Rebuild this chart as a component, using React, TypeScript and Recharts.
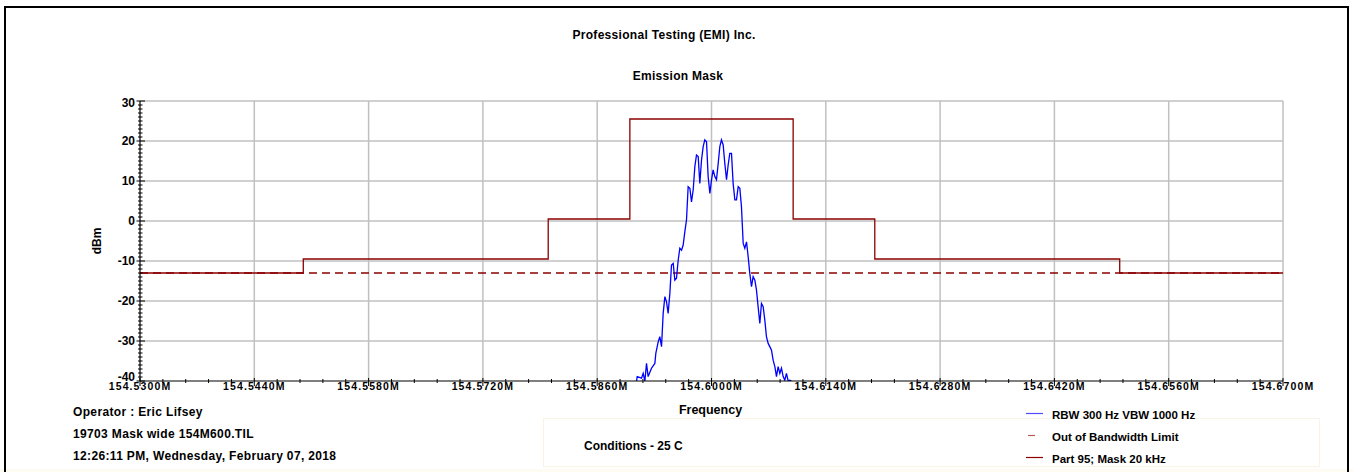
import { LineChart, Line, XAxis, YAxis, ReferenceLine } from "recharts";

const FONT = '"Liberation Sans", Arial, sans-serif';
const GRID = "#c0c0c0";
const BLUE = "#0000ff";
const MASK = "#8b0000";

// eje X (MHz) y eje Y (dBm)
const X_MAJOR = [154.53, 154.544, 154.558, 154.572, 154.586, 154.6, 154.614, 154.628, 154.642, 154.656, 154.67];
const Y_MAJOR = [-40, -30, -20, -10, 0, 10, 20, 30];

// máscara Part 95 (escalones)
const MASK_FREQ = [154.53, 154.55, 154.55, 154.58, 154.58, 154.59, 154.59, 154.61, 154.61, 154.62, 154.62, 154.65, 154.65, 154.67];
const MASK_DBM = [-13, -13, -9.5, -9.5, 0.5, 0.5, 25.5, 25.5, 0.5, 0.5, -9.5, -9.5, -13, -13];

// límite fuera de banda
const LIMIT_FREQ = [154.53, 154.67];
const LIMIT_DBM = [-13, -13];

// traza RBW 300 Hz
const TRACE_FREQ = [
  154.59082, 154.5909, 154.59143, 154.59163, 154.59184, 154.59204, 154.59224, 154.59265, 154.59306, 154.59318,
  154.59347, 154.59367, 154.59388, 154.59408, 154.59429, 154.59449, 154.59469, 154.5949, 154.5951, 154.59531,
  154.59551, 154.59571, 154.59592, 154.59612, 154.59633, 154.59653, 154.59673, 154.59694, 154.59714, 154.59735,
  154.59755, 154.59776, 154.59796, 154.59816, 154.59837, 154.59857, 154.59878, 154.59898, 154.59918, 154.59939,
  154.59959, 154.5998, 154.6, 154.6002, 154.60041, 154.60061, 154.60082, 154.60102, 154.60122, 154.60143,
  154.60163, 154.60184, 154.60204, 154.60224, 154.60245, 154.60265, 154.60286, 154.60306, 154.60327, 154.60347,
  154.60367, 154.60388, 154.60408, 154.60429, 154.60449, 154.60469, 154.6049, 154.6051, 154.60531, 154.60551,
  154.60571, 154.60592, 154.60612, 154.60633, 154.60653, 154.60673, 154.60694, 154.60714, 154.60735, 154.60755,
  154.60776, 154.60796, 154.60816, 154.60837, 154.60857, 154.60878, 154.60898, 154.60918, 154.60939, 154.60959,
  154.6098,
];
const TRACE_DBM = [
  -40, -38.9, -39.3, -38.1, -40, -35.6, -38.9, -36.8, -35.6, -33.1,
  -30.2, -28.9, -31.4, -23.1, -18.9, -20.2, -23.1, -18.1, -11, -10.6,
  -14.8, -14.3, -9.8, -6.8, -7.3, -6, -2.7, 0.3, 8.6, 8.2,
  4.8, 7.8, 13.6, 16.5, 16.1, 9.4, 15.3, 18.6, 20.3, 19.8,
  11.1, 6.9, 10.3, 12.8, 11.1, 10.3, 14.4, 18.6, 20.3, 19,
  14.4, 10.3, 14, 16.9, 16.9, 9.4, 5.3, 5.3, 8.6, 8.2,
  3.6, -5.6, -6.8, -5.2, -8.9, -13.1, -16.4, -13.9, -14.8, -17.3,
  -21.4, -25.6, -20.6, -21.4, -24.8, -28.9, -30.6, -31.4, -32.3, -34.8,
  -36.4, -38.9, -36.4, -38.1, -36.8, -38.9, -39.8, -38.1, -40, -39.8,
  -40,
];

const LEGEND = [
  { label: "RBW 300 Hz VBW 1000 Hz", color: "#4d4dff", len: 17 },
  { label: "Out of Bandwidth Limit", color: "#b85a5a", len: 7 },
  { label: "Part 95; Mask 20 kHz", color: "#900000", len: 17 },
];

const INFO = [
  "Operator : Eric Lifsey",
  "19703 Mask wide 154M600.TIL",
  "12:26:11 PM, Wednesday, February 07, 2018",
];

// marcas menores: 5 divisiones en X, 1 dB en Y
const X_TICKS = X_MAJOR.flatMap((v, i) =>
  i === X_MAJOR.length - 1 ? [v] : [0, 1, 2, 3, 4].map((k) => +(v + (k * (X_MAJOR[i + 1] - v)) / 5).toFixed(5))
);
const Y_TICKS = Y_MAJOR.flatMap((v, i) =>
  i === Y_MAJOR.length - 1 ? [v] : Array.from({ length: 10 }, (_, k) => v + k)
);

const pares = (xs: number[], ys: number[]) => xs.map((x, i) => ({ x, y: ys[i] }));
const traza = pares(TRACE_FREQ, TRACE_DBM);
const mascara = pares(MASK_FREQ, MASK_DBM);
const limite = pares(LIMIT_FREQ, LIMIT_DBM);

const esMayorX = (v: number) => X_MAJOR.some((m) => Math.abs(m - v) < 1e-7);

function XTick({ x, y, payload }: any) {
  const v = payload.value as number;
  const mayor = esMayorX(v);
  return (
    <g>
      <line x1={x} x2={x} y1={y - (mayor ? 3 : 2)} y2={y + (mayor ? 5 : 2)} stroke="#000" strokeWidth={1} />
      {mayor && (
        <text x={x} y={y + 8.5} textAnchor="middle" fontSize={10.5} fontWeight="bold" letterSpacing={1.1} fontFamily={FONT} fill="#000">
          {v.toFixed(4)}M
        </text>
      )}
    </g>
  );
}

function YTick({ x, y, payload }: any) {
  const v = payload.value as number;
  const mayor = Y_MAJOR.includes(v);
  const dy = v === 30 ? 6 : v === -40 ? -0.5 : 4.4;
  return (
    <g>
      <line x1={x - (mayor ? 3.5 : 2)} x2={x + (mayor ? 5 : 2.5)} y1={y} y2={y} stroke="#000" strokeWidth={1} />
      {mayor && (
        <text x={x - 5} y={y + dy} textAnchor="end" fontSize={12} fontWeight="bold" fontFamily={FONT} fill="#000">
          {v}
        </text>
      )}
    </g>
  );
}

const txt = { fontFamily: FONT, fontWeight: "bold" as const, fill: "#000" };

export default function App() {
  return (
    <div style={{ position: "absolute", left: 0, top: 0, width: 1353, height: 472, overflow: "hidden", background: "#fff" }}>
      <div style={{ position: "absolute", left: 0, top: 469, width: 1353, height: 3, background: "#fefbf3" }} />
      <div style={{ position: "absolute", left: 543, top: 418, width: 777, height: 49, border: "1px solid #faf3e6", boxSizing: "border-box" }} />
      <div style={{ position: "absolute", left: 4, top: 6, width: 1345, height: 480, border: "2px solid #000", boxSizing: "border-box" }} />

      <div style={{ position: "absolute", left: 0, top: 0 }}>
        <LineChart width={1353} height={472} margin={{ top: 101, right: 70, bottom: 61, left: 100 }}>
          <XAxis
            type="number"
            dataKey="x"
            domain={[154.53, 154.67]}
            allowDataOverflow
            ticks={X_TICKS}
            interval={0}
            height={30}
            tickSize={0}
            tickMargin={0}
            tickLine={false}
            axisLine={{ stroke: "#000", strokeWidth: 1.2 }}
            tick={<XTick />}
          />
          <YAxis
            type="number"
            dataKey="y"
            domain={[-40, 30]}
            allowDataOverflow
            ticks={Y_TICKS}
            interval={0}
            width={40}
            tickSize={0}
            tickMargin={0}
            tickLine={false}
            axisLine={{ stroke: "#000", strokeWidth: 1.2 }}
            tick={<YTick />}
          />
          {X_MAJOR.slice(1).map((v) => (
            <ReferenceLine key={"gx" + v} x={v} stroke={GRID} strokeWidth={1.5} />
          ))}
          {Y_MAJOR.slice(1).map((v) => (
            <ReferenceLine key={"gy" + v} y={v} stroke={GRID} strokeWidth={1.5} />
          ))}
          <Line data={limite} dataKey="y" type="linear" stroke={MASK} strokeWidth={1.3} strokeDasharray="8 5" dot={false} activeDot={false} isAnimationActive={false} />
          <Line data={mascara} dataKey="y" type="linear" stroke={MASK} strokeWidth={1.3} dot={false} activeDot={false} isAnimationActive={false} />
          <Line data={traza} dataKey="y" type="linear" stroke={BLUE} strokeWidth={1.3} dot={false} activeDot={false} isAnimationActive={false} />
        </LineChart>
      </div>

      <svg width={1353} height={472} style={{ position: "absolute", left: 0, top: 0, pointerEvents: "none" }}>
        <text x={664} y={39.3} textAnchor="middle" fontSize={12} letterSpacing={0.3} {...txt}>
          Professional Testing (EMI) Inc.
        </text>
        <text x={678} y={80.3} textAnchor="middle" fontSize={12} letterSpacing={0.3} {...txt}>
          Emission Mask
        </text>
        <text x={101.3} y={241} textAnchor="middle" fontSize={12} transform="rotate(-90, 101.3, 241)" {...txt}>
          dBm
        </text>
        <text x={710.5} y={413.8} textAnchor="middle" fontSize={12.5} {...txt}>
          Frequency
        </text>
        {INFO.map((t, i) => (
          <text key={t} x={73} y={416 + i * 22} fontSize={12} letterSpacing={0.35} {...txt}>
            {t}
          </text>
        ))}
        <text x={584} y={450} fontSize={12} {...txt}>
          Conditions - 25 C
        </text>
        {LEGEND.map((l, i) => {
          const yc = 413.5 + i * 22;
          const x0 = l.len === 17 ? 1026 : 1028;
          return (
            <g key={l.label}>
              <line x1={x0} x2={x0 + l.len} y1={yc} y2={yc} stroke={l.color} strokeWidth={1.2} />
              <text x={1052} y={yc + 5.2} fontSize={11.5} {...txt}>
                {l.label}
              </text>
            </g>
          );
        })}
      </svg>
    </div>
  );
}
